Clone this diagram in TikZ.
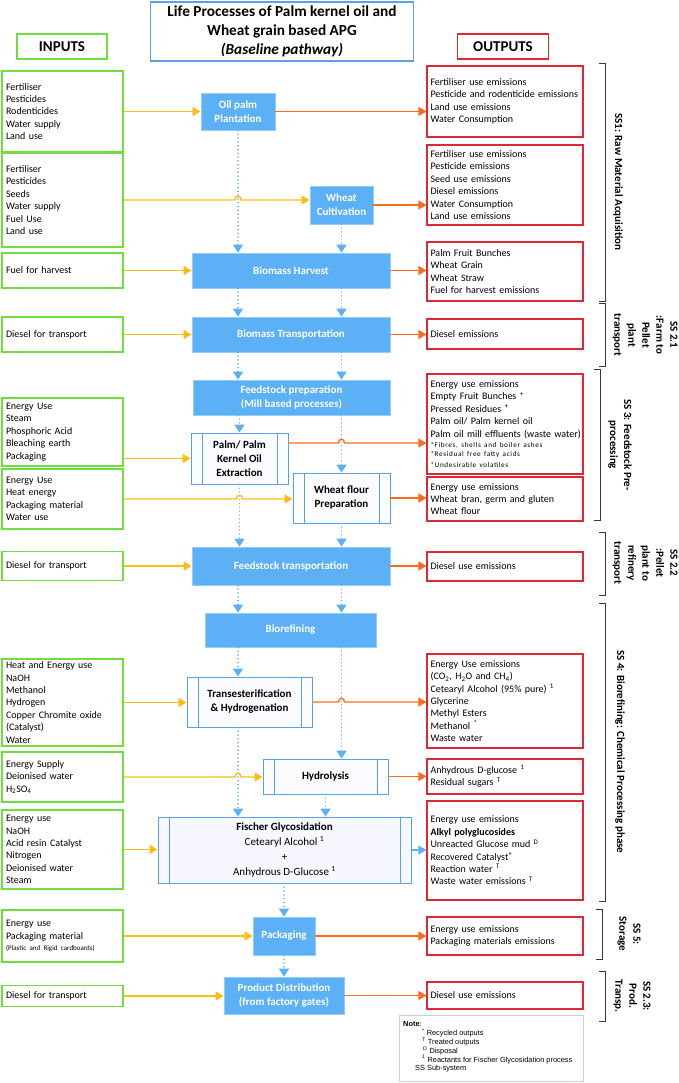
\documentclass[tikz,border=0pt]{standalone}
\usepackage{fontspec}
\setmainfont{Carlito}
\newfontfamily\notefont{Liberation Sans}
\newfontfamily\spacedf[LetterSpace=9]{Carlito}
\usetikzlibrary{arrows.meta,calc}
\definecolor{procblue}{RGB}{92,176,245}
\definecolor{procedge}{RGB}{150,205,248}
\definecolor{predblue}{RGB}{85,162,232}
\definecolor{predfill}{RGB}{250,252,255}
\definecolor{ingreen}{RGB}{112,222,62}
\definecolor{outred}{RGB}{222,40,52}
\definecolor{inyellow}{RGB}{255,188,20}
\definecolor{outorange}{RGB}{252,108,28}
\definecolor{titleblue}{RGB}{92,160,230}
\definecolor{notegray}{RGB}{200,208,208}
\definecolor{brgray}{RGB}{55,55,55}
\newcommand{\tinyf}{\fontsize{7}{8}\selectfont}
\newcommand{\smallsp}{\spacedf\fontsize{7.2}{8}\selectfont}
\begin{document}
\begin{tikzpicture}[x=1pt,y=-1pt,
  proc/.style={fill=procblue, draw=procedge, line width=0.8pt, text=white, font=\fontsize{11}{14}\selectfont\bfseries, align=center, inner sep=0pt},
  pred/.style={draw=predblue, fill=predfill, line width=0.9pt, text=black, font=\fontsize{11}{14}\selectfont\bfseries, align=center, inner sep=0pt,
    path picture={\draw[predblue, line width=0.9pt]
      ([xshift=11pt]path picture bounding box.north west) -- ([xshift=11pt]path picture bounding box.south west)
      ([xshift=-11pt]path picture bounding box.north east) -- ([xshift=-11pt]path picture bounding box.south east);}},
  inbox/.style={draw=ingreen, line width=1.1pt, fill=white, font=\fontsize{10}{12.4}\selectfont, align=left, inner xsep=4pt, inner ysep=0pt, text width=113pt},
  outbox/.style={draw=outred, line width=1.1pt, fill=white, font=\fontsize{10}{12.4}\selectfont, align=left, inner xsep=3.5pt, inner ysep=0pt, text width=149pt},
  inarrow/.style={draw=inyellow, line width=1.3pt, -{Triangle[length=8pt,width=9pt]}},
  outarrow/.style={draw=outorange, line width=1.3pt, -{Triangle[length=8pt,width=9pt]}},
  blarrow/.style={draw=procblue, line width=1.3pt, -{Triangle[length=8pt,width=9pt]}},
  flow/.style={draw=procblue, line width=1.6pt, dash pattern=on 0.01pt off 3.8pt, line cap=round, -{Triangle[length=8pt,width=10pt]}},
  bracket/.style={draw=brgray, line width=1pt},
  sslabel/.style={rotate=-90, align=center, font=\fontsize{11}{14}\selectfont\bfseries, inner sep=0pt},
]
\fill[white] (0,0) rectangle (679,1083);
\useasboundingbox (0,0) rectangle (679,1083);

% headers
\node[draw=titleblue, line width=1.1pt, minimum width=263pt, minimum height=59pt, align=center, inner sep=0pt, font=\fontsize{15.3}{19}\selectfont\bfseries] (title) at (282,31.5) {Life Processes of Palm kernel oil and\\Wheat grain based APG\\\textit{(Baseline pathway)}};
\node[draw=ingreen, line width=1.1pt, minimum width=90pt, minimum height=25pt, inner sep=0pt, font=\fontsize{15}{18}\selectfont\bfseries] (inputs) at (62,46.5) {INPUTS};
\node[draw=outred, line width=1.1pt, minimum width=91pt, minimum height=25pt, inner sep=0pt, font=\fontsize{15}{18}\selectfont\bfseries] (outputs) at (503,46.5) {OUTPUTS};

% processes
\node[proc, minimum width=74pt, minimum height=37pt] (palm) at (238,111.5) {Oil palm\\Plantation};
\node[proc, minimum width=63pt, minimum height=38pt] (wheat) at (341.5,205) {Wheat\\Cultivation};
\node[proc, minimum width=198pt, minimum height=35pt] (harvest) at (291,270.5) {Biomass Harvest};
\node[proc, minimum width=198pt, minimum height=35pt] (btrans) at (291,334.5) {Biomass Transportation};
\node[proc, minimum width=197pt, minimum height=35pt] (fprep) at (291.5,397.5) {Feedstock preparation\\(Mill based processes)};
\node[pred, minimum width=97pt, minimum height=51pt] (pko) at (239.5,458.5) {Palm/ Palm\\Kernel Oil\\Extraction};
\node[pred, minimum width=97pt, minimum height=50pt] (wfp) at (341.5,498) {Wheat flour\\Preparation};
\node[proc, minimum width=198pt, minimum height=38pt] (ftrans) at (291,566) {Feedstock transportation};
\node[proc, minimum width=171pt, minimum height=34pt] (bioref) at (290.5,630) {Biorefining};
\node[pred, minimum width=125pt, minimum height=50pt] (trans) at (249.5,702) {Transesterification\\\& Hydrogenation};
\node[pred, minimum width=125pt, minimum height=35pt] (hydro) at (325.5,776.5) {Hydrolysis};
\node[pred, minimum width=253pt, minimum height=66pt, fill=blue!3, font=\fontsize{11}{15}\selectfont] (fischer) at (284.5,850) {\textbf{Fischer Glycosidation}\\Cetearyl Alcohol \textsuperscript{1}\\+\\Anhydrous D-Glucose \textsuperscript{1}};
\node[proc, minimum width=62pt, minimum height=38pt] (pack) at (284,936) {Packaging};
\node[proc, minimum width=120pt, minimum height=37pt] (pdist) at (284,995.5) {Product Distribution\\(from factory gates)};

% inputs
\node[inbox, minimum height=81pt] (in1) at (62.5,111.5) {Fertiliser\\Pesticides\\Rodenticides\\Water supply\\Land use};
\node[inbox, minimum height=94pt] (in2) at (62.5,200) {Fertiliser\\Pesticides\\Seeds\\Water supply\\Fuel Use\\Land use};
\node[inbox, minimum height=35pt] (in3) at (62.5,270.5) {Fuel for harvest};
\node[inbox, minimum height=35pt] (in4) at (62.5,334.5) {Diesel for transport};
\node[inbox, minimum height=68pt] (in5) at (62.5,432) {Energy Use\\Steam\\Phosphoric Acid\\Bleaching earth\\Packaging};
\node[inbox, minimum height=60pt] (in6) at (62.5,499) {Energy Use\\Heat energy\\Packaging material\\Water use};
\node[inbox, minimum height=29pt] (in7) at (62.5,566) {Diesel for transport};
\node[inbox, minimum height=87pt] (in8) at (62.5,702.5) {Heat and Energy use\\NaOH\\Methanol\\Hydrogen\\Copper Chromite oxide\\(Catalyst)\\Water};
\node[inbox, minimum height=50pt] (in9) at (62.5,777) {Energy Supply\\Deionised water\\H\textsubscript{2}SO\textsubscript{4}};
\node[inbox, minimum height=79pt] (in10) at (62.5,849.5) {Energy use\\NaOH\\Acid resin Catalyst\\Nitrogen\\Deionised water\\Steam};
\node[inbox, minimum height=52pt] (in11) at (62.5,936) {Energy use\\Packaging material\\[-1pt]{\tinyf (Plastic and Rigid cardboards)}};
\node[inbox, minimum height=21pt] (in12) at (62.5,996) {Diesel for transport};

% outputs
\node[outbox, minimum height=71pt] (out1) at (505,101.5) {Fertiliser use emissions\\Pesticide and rodenticide emissions\\Land use emissions\\Water Consumption};
\node[outbox, minimum height=80pt] (out2) at (505,185) {Fertiliser use emissions\\Pesticide emissions\\Seed use emissions\\Diesel emissions\\Water Consumption\\Land use emissions};
\node[outbox, minimum height=59pt] (out3) at (505,271.5) {Palm Fruit Bunches\\Wheat Grain\\Wheat Straw\\Fuel for harvest emissions};
\node[outbox, minimum height=30pt] (out4) at (505,334) {Diesel emissions};
\node[outbox, minimum height=100pt] (out5) at (505,424) {Energy use emissions\\Empty Fruit Bunches \textsuperscript{+}\\Pressed Residues \textsuperscript{+}\\Palm oil/ Palm kernel oil\\\mbox{Palm oil mill effluents (waste water)}\\[-2pt]{\smallsp *Fibres, shells and boiler ashes}\\[-3.5pt]{\smallsp *Residual free fatty acids}\\[-1.5pt]{\smallsp *Undesirable volatiles}};
\node[outbox, minimum height=44pt] (out6) at (505,499) {Energy use emissions\\Wheat bran, germ and gluten\\Wheat flour};
\node[outbox, minimum height=29pt] (out7) at (505,566.5) {Diesel use emissions};
\node[outbox, minimum height=94pt] (out8) at (505,701) {Energy Use emissions\\(CO\textsubscript{2}, H\textsubscript{2}O and CH\textsubscript{4})\\Cetearyl Alcohol (95\% pure) \textsuperscript{1}\\Glycerine\\Methyl Esters\\Methanol \textsuperscript{*}\\Waste water};
\node[outbox, minimum height=35pt] (out9) at (505,776.5) {Anhydrous D-glucose \textsuperscript{1}\\Residual sugars \textsuperscript{T}};
\node[outbox, minimum height=99pt] (out10) at (505,850.5) {Energy use emissions\\\textbf{Alkyl polyglucosides}\\Unreacted Glucose mud \textsuperscript{D}\\Recovered Catalyst\textsuperscript{+}\\Reaction water \textsuperscript{T}\\Waste water emissions \textsuperscript{T}};
\node[outbox, minimum height=38pt] (out11) at (505,936) {Energy use emissions\\Packaging materials emissions};
\node[outbox, minimum height=27pt] (out12) at (505,995.5) {Diesel use emissions};

% note
\node[draw=notegray, line width=1pt, minimum width=184pt, minimum height=66pt, inner sep=0pt] (note) at (491,1048) {};
\node[anchor=north west, inner sep=0pt, align=left, font=\notefont\fontsize{7.4}{8.8}\selectfont] (notetext) at (403,1021.5) {\textbf{Note}:\\
\hspace*{19pt}\textsuperscript{*} Recycled outputs\\
\hspace*{19pt}\textsuperscript{T} Treated outputs\\
\hspace*{20pt}\textsuperscript{D} Disposal\\
\hspace*{19pt}\textsuperscript{1} Reactants for Fischer Glycosidation process\\
\hspace*{12pt}SS\ Sub-system};

% column coordinates
\coordinate (colL) at (238,0);
\coordinate (colR) at (341.5,0);

% dotted flows
\draw[flow] (palm.south) -- (palm.south |- harvest.north);
\draw[flow] (wheat.south) -- (wheat.south |- harvest.north);
\draw[flow] (harvest.south -| colL) -- (btrans.north -| colL);
\draw[flow] (harvest.south -| colR) -- (btrans.north -| colR);
\draw[flow] (btrans.south -| colL) -- (fprep.north -| colL);
\draw[flow] (btrans.south -| colR) -- (fprep.north -| colR);
\draw[flow] (fprep.south -| pko.north) -- (pko.north);
\draw[flow] (fprep.south -| wfp.north) -- (wfp.north);
\draw[flow] (pko.south) -- (pko.south |- ftrans.north);
\draw[flow] (wfp.south) -- (wfp.south |- ftrans.north);
\draw[flow] (ftrans.south -| colL) -- (bioref.north -| colL);
\draw[flow] (ftrans.south -| colR) -- (bioref.north -| colR);
\draw[flow] (bioref.south -| colL) -- (trans.north -| colL);
\draw[flow] (bioref.south -| colR) -- (hydro.north -| colR);
\draw[flow] (trans.south -| colL) -- (fischer.north -| colL);
\draw[flow] (hydro.south) -- (hydro.south |- fischer.north);
\draw[flow] (fischer.south -| pack.north) -- (pack.north);
\draw[flow] (pack.south) -- (pdist.north);

% hop points
\coordinate (h2) at (in2.east -| colL);
\coordinate (h6) at (in6.east -| pko.south);
\coordinate (h9) at (in9.east -| colL);
\coordinate (p5) at ([yshift=15.5pt]pko.east);
\coordinate (h5) at (p5 -| colR);
\coordinate (h8) at (trans.east -| colR);

% input arrows
\draw[inarrow] (in1.east) -- (in1.east -| palm.west);
\draw[inarrow] (in2.east) -- ($(h2)+(-3,0)$) .. controls ($(h2)+(-3,-5)$) and ($(h2)+(3,-5)$) .. ($(h2)+(3,0)$) -- (in2.east -| wheat.west);
\draw[inarrow] (in3.east) -- (in3.east -| harvest.west);
\draw[inarrow] (in4.east) -- (in4.east -| btrans.west);
\draw[inarrow] (in5.east |- pko.west) -- (pko.west);
\draw[inarrow] (in6.east) -- ($(h6)+(-3,0)$) .. controls ($(h6)+(-3,-5)$) and ($(h6)+(3,-5)$) .. ($(h6)+(3,0)$) -- (in6.east -| wfp.west);
\draw[inarrow] (in7.east) -- (in7.east -| ftrans.west);
\draw[inarrow] (in8.east) -- (in8.east -| trans.west);
\draw[inarrow] (in9.east) -- ($(h9)+(-3,0)$) .. controls ($(h9)+(-3,-5)$) and ($(h9)+(3,-5)$) .. ($(h9)+(3,0)$) -- (in9.east -| hydro.west);
\draw[inarrow] (in10.east) -- (in10.east -| fischer.west);
\draw[inarrow] (in11.east) -- (in11.east -| pack.west);
\draw[inarrow] (in12.east) -- (in12.east -| pdist.west);

% output arrows
\draw[outarrow] (palm.east) -- (palm.east -| out1.west);
\draw[outarrow] (wheat.east) -- (wheat.east -| out2.west);
\draw[outarrow] (harvest.east) -- (harvest.east -| out3.west);
\draw[outarrow] (btrans.east) -- (btrans.east -| out4.west);
\draw[outarrow] (p5) -- ($(h5)+(-3,0)$) .. controls ($(h5)+(-3,-5)$) and ($(h5)+(3,-5)$) .. ($(h5)+(3,0)$) -- (p5 -| out5.west);
\draw[outarrow] (wfp.east) -- (wfp.east -| out6.west);
\draw[outarrow] (ftrans.east) -- (ftrans.east -| out7.west);
\draw[outarrow] (trans.east) -- ($(h8)+(-3,0)$) .. controls ($(h8)+(-3,-5)$) and ($(h8)+(3,-5)$) .. ($(h8)+(3,0)$) -- (trans.east -| out8.west);
\draw[outarrow] (hydro.east) -- (hydro.east -| out9.west);
\draw[blarrow] (fischer.east) -- (fischer.east -| out10.west);
\draw[outarrow] (pack.east) -- (pack.east -| out11.west);
\draw[outarrow] (pdist.east) -- (pdist.east -| out12.west);

% subsystem brackets
\draw[bracket] (599,64) -- (605,64) -- (605,301) -- (599,301);
\draw[bracket] (599,303) -- (605,303) -- (605,366) -- (599,366);
\draw[bracket] (594,369) -- (600,369) -- (600,520) -- (594,520);
\draw[bracket] (599,532) -- (605,532) -- (605,595) -- (599,595);
\draw[bracket] (599,603) -- (605,603) -- (605,901) -- (599,901);
\draw[bracket] (596,909) -- (602,909) -- (602,959) -- (596,959);
\draw[bracket] (599,971) -- (605,971) -- (605,1021) -- (599,1021);

\node[sslabel] (ss1) at (618,182) {SS1: Raw Material Acquisition};
\node[sslabel] (ss21) at (645,335) {SS 2.1\\:Farm to\\Pellet\\plant\\transport};
\node[sslabel] (ss3) at (620,445) {SS 3: Feedstock Pre-\\processing};
\node[sslabel] (ss22) at (645,563) {SS 2.2\\:Pellet\\plant to\\refinery\\transport};
\node[sslabel] (ss4) at (620,752) {SS 4: Biorefining: Chemical Processing phase};
\node[sslabel] (ss5) at (629,934) {SS 5:\\Storage};
\node[sslabel] (ss23) at (632,996) {SS 2.3:\\Prod.\\Transp.};
\end{tikzpicture}
\end{document}
